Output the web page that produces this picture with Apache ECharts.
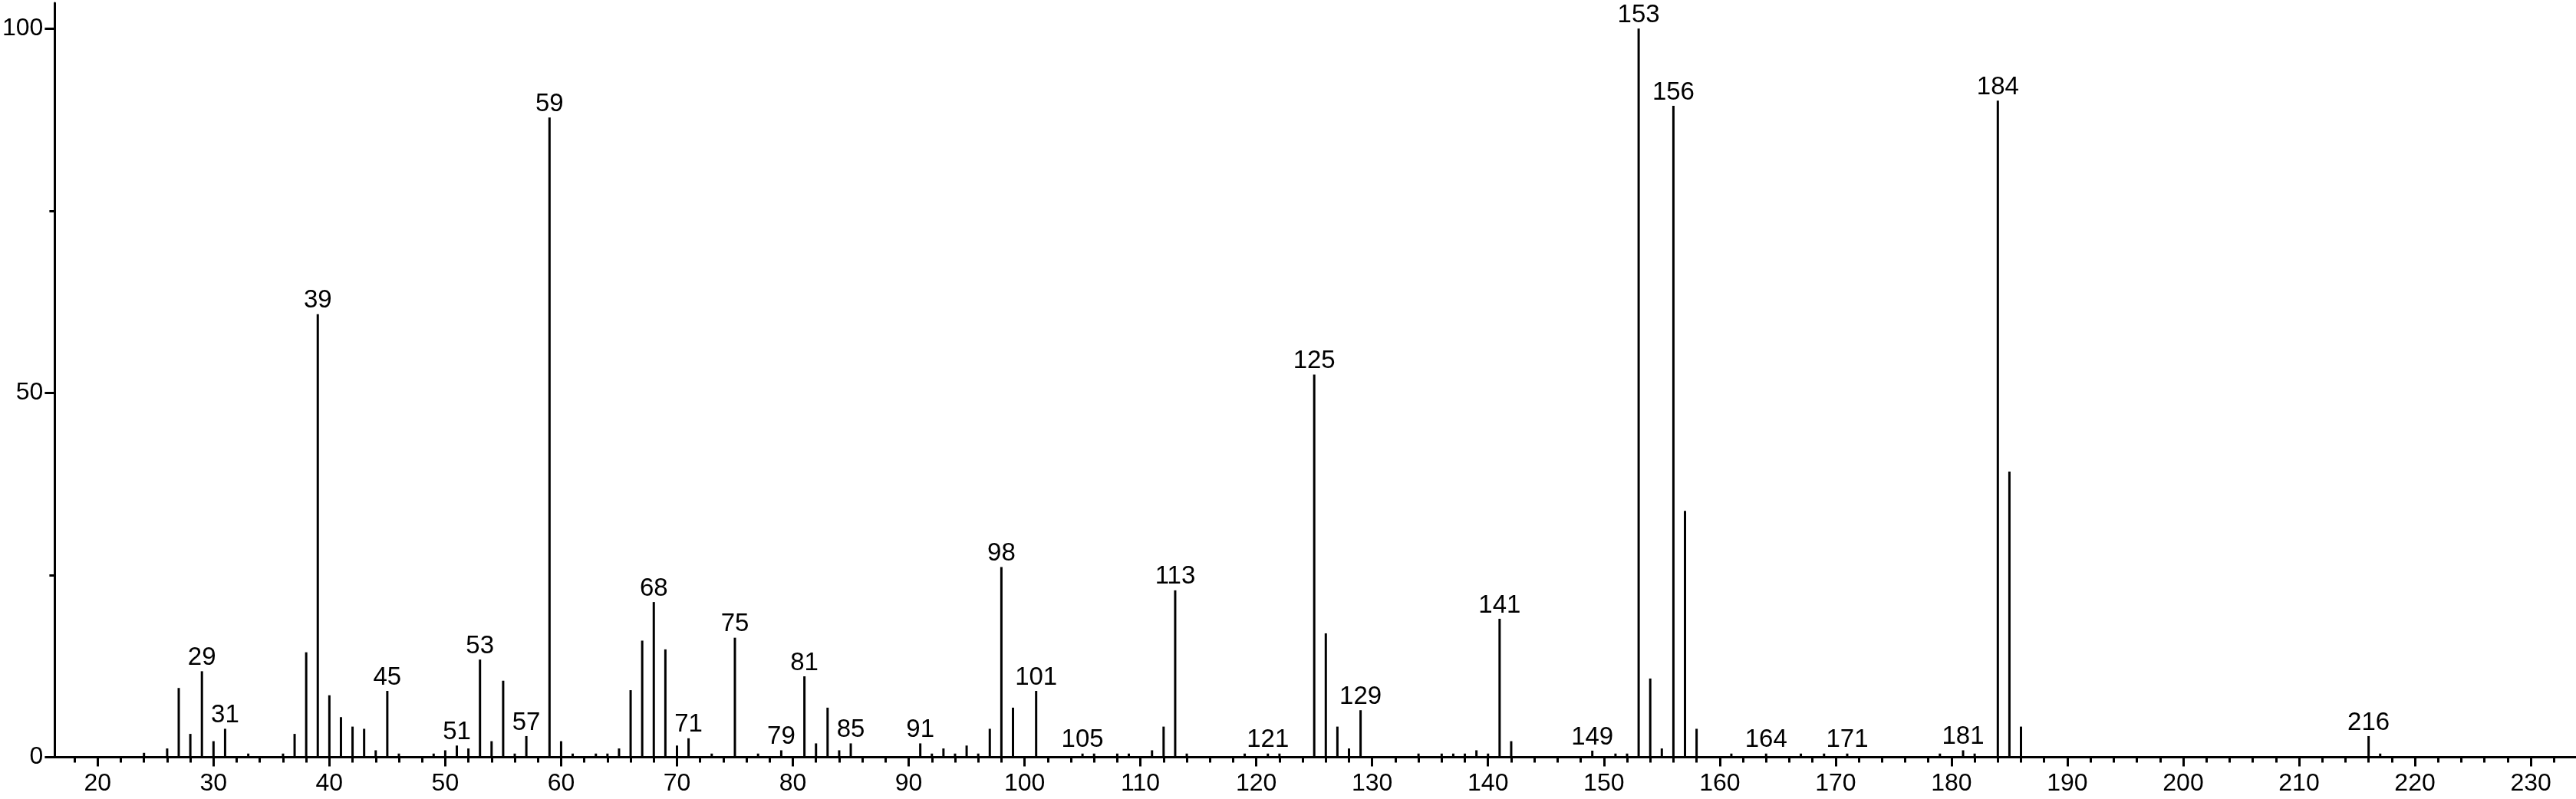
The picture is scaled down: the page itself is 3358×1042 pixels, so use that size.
<!DOCTYPE html>
<html>
<head>
<meta charset="utf-8">
<style>
html,body{margin:0;padding:0;background:#fff;}
#c{width:3358px;height:1042px;}
</style>
<script src="https://cdn.jsdelivr.net/npm/echarts@6/dist/echarts.min.js"></script>
</head>
<body>
<div id="c"></div>
<script>
// m/z values of the peaks
const mz = [24,26,27,28,29,30,31,33,36,37,38,39,40,41,42,43,44,45,46,49,50,51,52,53,54,55,56,57,59,60,61,63,64,65,66,67,68,69,70,71,73,75,77,79,81,82,83,84,85,91,92,93,94,95,96,97,98,99,101,105,106,108,109,111,112,113,114,119,121,122,125,126,127,128,129,134,136,137,138,139,140,141,142,149,151,152,153,154,155,156,157,158,161,164,167,169,171,179,181,182,184,185,186,216,217];
// relative intensities (%)
const intensity = [0.6,1.2,9.5,3.2,11.8,2.2,3.9,0.5,0.5,3.2,14.4,60.8,8.5,5.5,4.2,3.9,0.95,9.1,0.5,0.5,0.95,1.6,1.2,13.4,2.2,10.5,0.5,2.9,87.8,2.2,0.5,0.5,0.5,1.2,9.2,16.0,21.3,14.8,1.6,2.6,0.5,16.4,0.5,0.95,11.1,1.9,6.8,0.95,1.9,1.9,0.5,1.2,0.5,1.6,0.5,3.9,26.1,6.8,9.1,0.5,0.5,0.5,0.5,0.95,4.2,22.9,0.5,0.5,0.5,0.5,52.5,17.0,4.2,1.2,6.45,0.5,0.5,0.5,0.5,0.95,0.5,19.0,2.2,0.9,0.5,0.5,100,10.8,1.2,89.4,33.8,3.9,0.5,0.5,0.5,0.5,0.5,0.5,0.95,0.5,90.1,39.2,4.2,2.9,0.5];
// peaks carrying an m/z label
const labeledPeaks = [29,31,39,45,51,53,57,59,68,71,75,79,81,85,91,98,101,105,113,121,125,129,141,149,153,156,164,171,181,184,216];
// axis ticks
const xMajorTicks = [20,30,40,50,60,70,80,90,100,110,120,130,140,150,160,170,180,190,200,210,220,230];
const xMinorTicks = [];
for (let v = 18; v <= 232; v += 2) { if (v % 10 !== 0) xMinorTicks.push(v); }
const yMajorTicks = [0,50,100];
const yMinorTicks = [25,75];

const FONT = '"Liberation Sans", Arial, Helvetica, sans-serif';
const XMIN = 16.3, XMAX = 233.9, YMIN = 0, YMAX = 103.5;

const chart = echarts.init(document.getElementById('c'), null, {renderer:'canvas'});
const seriesData = mz.map((m, i) => {
  const item = { value: [m, intensity[i]] };
  if (labeledPeaks.indexOf(m) >= 0) item.label = { show: true };
  return item;
});
chart.setOption({
  animation: false,
  backgroundColor: '#fff',
  grid: { left: 70, right: 0, top: 4, bottom: 54.5, containLabel: false },
  xAxis: [
    {
      type: 'value', min: XMIN, max: XMAX, position: 'bottom',
      axisLine: { show: true, onZero: false, lineStyle: { color: '#000', width: 3 } },
      axisTick: { show: true, customValues: xMajorTicks, length: 12, lineStyle: { color: '#000', width: 3 } },
      axisLabel: { show: true, customValues: xMajorTicks, color: '#000', fontSize: 32, fontFamily: FONT, margin: 19 },
      splitLine: { show: false }
    },
    {
      type: 'value', min: XMIN, max: XMAX, position: 'bottom', offset: 0,
      axisLine: { show: false, onZero: false },
      axisTick: { show: true, customValues: xMinorTicks, length: 7, lineStyle: { color: '#000', width: 3 } },
      axisLabel: { show: false },
      splitLine: { show: false }
    }
  ],
  yAxis: [
    {
      type: 'value', min: YMIN, max: YMAX, position: 'left',
      axisLine: { show: true, onZero: false, lineStyle: { color: '#000', width: 3 } },
      axisTick: { show: true, customValues: yMajorTicks, length: 13, lineStyle: { color: '#000', width: 3 } },
      axisLabel: { show: true, customValues: yMajorTicks, color: '#000', fontSize: 32, fontFamily: FONT, margin: 15 },
      splitLine: { show: false }
    },
    {
      type: 'value', min: YMIN, max: YMAX, position: 'left', offset: 0,
      axisLine: { show: false, onZero: false },
      axisTick: { show: true, customValues: yMinorTicks, length: 7, lineStyle: { color: '#000', width: 3 } },
      axisLabel: { show: false },
      splitLine: { show: false }
    }
  ],
  series: [{
    type: 'bar',
    xAxisIndex: 0, yAxisIndex: 0,
    barWidth: 3,
    itemStyle: { color: '#000' },
    label: {
      show: false, position: 'top', distance: 1,
      color: '#000', fontSize: 33, fontFamily: FONT,
      formatter: p => String(p.value[0])
    },
    data: seriesData
  }]
});
</script>
</body>
</html>
